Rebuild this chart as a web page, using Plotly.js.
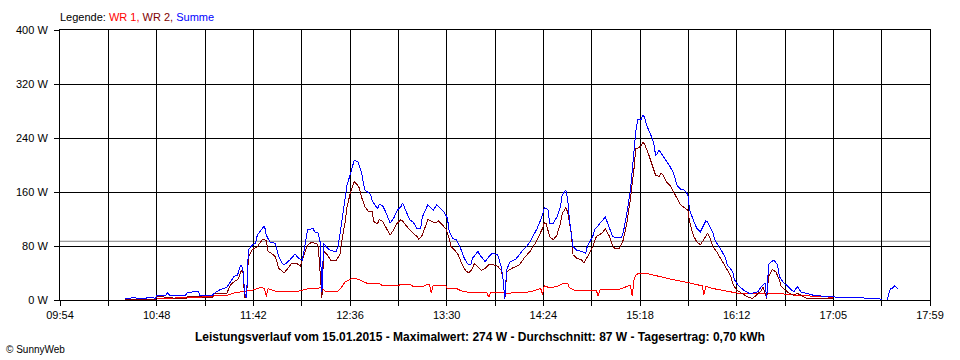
<!DOCTYPE html>
<html>
<head>
<meta charset="utf-8">
<script src="https://cdn.plot.ly/plotly-3.0.1.min.js"></script>
<style>
  html, body { margin: 0; padding: 0; background: #ffffff; }
  #chart { width: 960px; height: 360px; }
  #chart path.js-line { shape-rendering: crispEdges; }
</style>
</head>
<body>
<div id="chart"></div>
<script>
// ---- Data ----
const xTickLabels = ["09:54", "10:48", "11:42", "12:36", "13:30", "14:24", "15:18", "16:12", "17:05", "17:59"];
const yTickValues = [0, 80, 160, 240, 320, 400];
const yTickLabels = ["0 W", "80 W", "160 W", "240 W", "320 W", "400 W"];
const averageW = [87];

const wr1Times = ["10:48","11:00","11:12","11:19","11:20","11:27","11:32","11:38","11:42","11:46","11:48","11:49","11:50","11:51","11:54","11:59","12:03","12:07","12:11","12:14","12:20","12:22","12:29","12:31","12:33","12:36","12:38","12:40","12:41","12:45","12:48","12:52","12:54","13:02","13:04","13:09","13:11","13:16","13:19","13:20","13:21","13:22","13:24","13:29","13:30","13:35","13:39","13:47","13:48","13:52","13:53","13:54","14:01","14:03","14:16","14:22","14:23","14:24","14:27","14:31","14:34","14:37","14:38","14:41","14:51","14:53","14:54","14:55","15:06","15:09","15:12","15:13","15:14","15:15","15:17","15:20","15:26","15:30","15:36","15:42","15:49","15:52","15:53","15:54","15:58","16:05","16:12","16:24","16:37","16:45","16:55","17:05"];
const wr1Watt  = [2,3,4,5,6,7,11,13,15,19,17,5,17,16,13,13,12,13,16,17,18,13,13,19,27,31,32,31,30,25,24,24,21,21,23,23,20,20,23,23,10,22,21,21,17,17,12,12,11,11,4,11,11,10,12,17,8,21,18,20,24,25,18,14,14,14,6,15,16,19,22,6,30,37,40,40,36,33,30,27,23,21,8,20,17,13,10,9,9,7,5,4];

const wr2Times = ["10:30","10:47","10:48","10:55","11:00","11:04","11:05","11:12","11:19","11:20","11:27","11:29","11:31","11:33","11:34","11:35","11:36","11:37","11:38","11:39","11:41","11:44","11:46","11:47","11:49","11:50","11:52","11:54","11:56","11:58","11:59","12:01","12:03","12:06","12:08","12:10","12:12","12:14","12:17","12:18","12:20","12:21","12:23","12:25","12:28","12:30","12:31","12:33","12:34","12:36","12:37","12:38","12:40","12:41","12:42","12:44","12:46","12:48","12:49","12:51","12:52","12:54","12:56","12:58","13:00","13:02","13:04","13:05","13:07","13:10","13:13","13:14","13:16","13:18","13:19","13:21","13:23","13:25","13:27","13:29","13:31","13:32","13:34","13:36","13:38","13:40","13:42","13:44","13:45","13:47","13:49","13:51","13:53","13:55","13:58","14:00","14:01","14:02","14:03","14:06","14:10","14:13","14:16","14:19","14:21","14:23","14:24","14:25","14:27","14:29","14:31","14:33","14:34","14:36","14:37","14:39","14:40","14:42","14:45","14:46","14:48","14:51","14:53","14:56","14:58","15:00","15:02","15:03","15:06","15:08","15:10","15:12","15:14","15:15","15:16","15:18","15:19","15:20","15:22","15:24","15:26","15:28","15:29","15:30","15:32","15:34","15:36","15:38","15:40","15:41","15:44","15:45","15:47","15:49","15:51","15:53","15:55","15:56","15:58","16:00","16:02","16:05","16:08","16:09","16:11","16:13","16:17","16:20","16:22","16:25","16:26","16:28","16:29","16:31","16:33","16:35","16:36","16:38","16:40","16:43","16:45","16:47","16:50","16:53","17:05"];
const wr2Watt  = [1,1,5,4,1.5,1.5,5,4,4,10,10,22,27,30,35,44,40,3,3,64,74,79,86,90,88,72,69,64,47,42,40,47,54,54,50,67,81,85,84,79,3,72,67,59,59,67,86,116,138,160,168,175,170,165,153,138,131,131,116,113,119,116,106,96,104,114,119,117,110,101,94,90,96,111,119,117,114,117,111,106,91,79,74,67,54,44,40,47,54,49,44,47,52,53,50,44,30,1,42,47,52,63,72,84,96,106,115,113,94,89,96,114,128,137,130,100,67,62,59,55,64,79,94,99,105,96,81,77,77,89,114,150,195,225,225,228,234,230,217,202,185,183,188,186,175,170,160,151,141,139,133,116,96,86,82,90,99,94,79,72,62,49,35,25,15,12,5,2,7,14,19,2,35,45,42,30,20,15,11,7,10,7,3,1.5,1.5];

const sumTimes = ["10:30","10:36","10:37","10:46","10:47","10:48","10:53","10:54","10:55","11:04","11:05","11:11","11:12","11:19","11:20","11:23","11:27","11:30","11:31","11:33","11:34","11:35","11:36","11:37","11:38","11:39","11:41","11:43","11:44","11:47","11:48","11:49","11:51","11:54","11:56","11:58","11:59","12:02","12:05","12:07","12:09","12:10","12:11","12:12","12:15","12:16","12:18","12:19","12:20","12:21","12:23","12:25","12:28","12:29","12:30","12:31","12:32","12:33","12:34","12:36","12:37","12:38","12:40","12:41","12:42","12:43","12:44","12:47","12:48","12:49","12:51","12:52","12:54","12:56","12:58","13:00","13:02","13:04","13:05","13:07","13:09","13:11","13:13","13:15","13:16","13:19","13:20","13:22","13:24","13:26","13:28","13:30","13:31","13:33","13:35","13:37","13:39","13:41","13:43","13:44","13:47","13:48","13:51","13:54","13:55","13:58","13:59","14:00","14:01","14:02","14:03","14:04","14:05","14:08","14:10","14:12","14:14","14:16","14:18","14:20","14:22","14:23","14:24","14:26","14:27","14:29","14:31","14:33","14:34","14:36","14:37","14:38","14:40","14:42","14:45","14:47","14:48","14:51","14:52","14:55","14:57","14:58","15:00","15:02","15:05","15:07","15:08","15:10","15:12","15:13","15:14","15:15","15:16","15:17","15:18","15:19","15:20","15:21","15:22","15:23","15:24","15:25","15:26","15:27","15:28","15:30","15:32","15:34","15:36","15:38","15:40","15:42","15:44","15:45","15:47","15:49","15:51","15:53","15:54","15:55","15:58","15:59","16:01","16:03","16:05","16:06","16:09","16:10","16:12","16:15","16:18","16:20","16:23","16:25","16:27","16:28","16:29","16:30","16:32","16:34","16:35","16:37","16:39","16:41","16:43","16:45","16:47","16:50","16:54","16:58","17:05","17:13","17:22","17:24","17:31","17:32","17:35","17:35","17:37","17:38","17:39","17:41","17:41"];
const sumWatt  = [1.5,4,1.5,4,1.5,7,7,11,7,7,11,13,7,7,10,15,19,30,35,37,47,52,44,10,3,74,81,84,96,107,110,96,86,84,64,54,52,59,68,62,59,72,86,104,106,101,99,86,12,84,77,73,72,79,96,116,136,156,170,188,200,207,205,198,190,175,163,157,148,143,135,142,139,128,114,121,133,138,144,131,119,115,106,106,123,141,139,133,141,136,131,121,101,91,89,79,64,54,52,62,72,67,57,67,69,67,57,49,30,2,45,52,57,60,67,74,79,86,96,106,119,126,137,134,114,114,123,138,156,163,150,119,79,74,72,69,80,94,104,114,119,123,109,94,92,92,100,128,163,193,225,250,267,267,268,274,270,259,254,247,240,232,215,217,222,214,205,198,188,170,164,163,156,133,119,106,101,111,117,116,99,89,81,72,62,52,42,30,22,15,10,10,12,20,25,3,52,56,59,52,35,27,22,17,12,20,12,10,7,6,5,3,3,1.5,1.5,0,0,0,17,17,21,17,17,0];

// ---- Helpers ----
function toMin(s) { const p = s.split(":"); return Number(p[0]) * 60 + Number(p[1]); }
const xStart = toMin(xTickLabels[0]);
const xEnd = toMin(xTickLabels[xTickLabels.length - 1]);
const nGrid = (xTickLabels.length - 1) * 2;
const xTickVals = [], xTickText = [];
for (let k = 0; k <= nGrid; k++) {
  xTickVals.push(xStart + k * (xEnd - xStart) / nGrid);
  xTickText.push(k % 2 === 0 ? xTickLabels[k / 2] : "");
}

const FONT = "Liberation Sans, Arial, sans-serif";

const traces = [
  { x: wr1Times.map(toMin), y: wr1Watt, name: "WR 1", type: "scatter", mode: "lines",
    line: { color: "#ff0000", width: 1 }, hoverinfo: "skip" },
  { x: wr2Times.map(toMin), y: wr2Watt, name: "WR 2", type: "scatter", mode: "lines",
    line: { color: "#800000", width: 1 }, hoverinfo: "skip" },
  { x: sumTimes.map(toMin), y: sumWatt, name: "Summe", type: "scatter", mode: "lines",
    line: { color: "#0000ff", width: 1 }, hoverinfo: "skip" }
];

const layout = {
  width: 960, height: 360,
  margin: { l: 60, r: 30, t: 30, b: 60, pad: 0 },
  paper_bgcolor: "#ffffff", plot_bgcolor: "#ffffff",
  showlegend: false,
  font: { family: FONT, size: 11, color: "#000000" },
  xaxis: {
    type: "linear", range: [xStart, xEnd], fixedrange: true,
    tickmode: "array", tickvals: xTickVals, ticktext: xTickText,
    showgrid: true, gridcolor: "#000000", gridwidth: 1,
    ticks: "outside", ticklen: 5, tickcolor: "#000000", tickwidth: 1,
    showline: true, linecolor: "#000000", linewidth: 1, mirror: true,
    zeroline: false, tickfont: { family: FONT, size: 11, color: "#000000" }
  },
  yaxis: {
    range: [0, 400], fixedrange: true,
    tickmode: "array", tickvals: yTickValues, ticktext: yTickLabels,
    showgrid: true, gridcolor: "#000000", gridwidth: 1,
    ticks: "outside", ticklen: 5, tickcolor: "#000000", tickwidth: 1,
    ticklabelstandoff: 4,
    showline: true, linecolor: "#000000", linewidth: 1, mirror: true,
    zeroline: false, tickfont: { family: FONT, size: 11, color: "#000000" }
  },
  shapes: averageW.map(v => ({
    type: "line", xref: "paper", x0: 0, x1: 1, yref: "y", y0: v, y1: v,
    line: { color: "#808080", width: 1 }, layer: "below"
  })),
  annotations: [
    { xref: "paper", yref: "paper", x: -0.002, y: 1.048, xanchor: "left", yanchor: "middle", showarrow: false,
      text: 'Legende: <span style="color:#ff0000">WR 1,</span> <span style="color:#800000">WR 2,</span> <span style="color:#0000ff">Summe</span>',
      font: { family: FONT, size: 11, color: "#000000" } },
    { xref: "paper", yref: "paper", x: 0.4828, y: -0.136, xanchor: "center", yanchor: "middle", showarrow: false,
      text: "<b>Leistungsverlauf vom 15.01.2015 - Maximalwert: 274 W - Durchschnitt: 87 W - Tagesertrag: 0,70 kWh</b>",
      font: { family: FONT, size: 12, color: "#000000" } },
    { xref: "paper", yref: "paper", x: -0.064, y: -0.1815, xanchor: "left", yanchor: "middle", showarrow: false,
      text: "© SunnyWeb",
      font: { family: FONT, size: 10, color: "#000000" } }
  ]
};

Plotly.newPlot("chart", traces, layout, { displayModeBar: false, staticPlot: true });
</script>
</body>
</html>
